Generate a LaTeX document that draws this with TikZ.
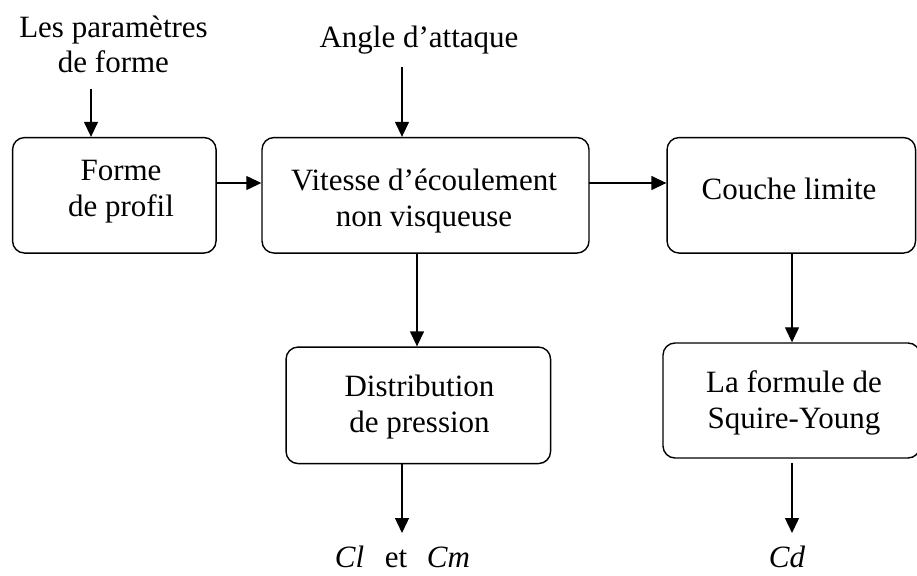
\documentclass[tikz,border=0pt]{standalone}
\usepackage{fontspec}
\setmainfont{Liberation Serif}
\usetikzlibrary{arrows.meta}
\begin{document}
\begin{tikzpicture}[x=1pt,y=-1pt,
  stage/.style={draw,line width=1.4pt,rounded corners=12pt,inner sep=0pt},
  lbl/.style={align=center,inner sep=0pt,font=\fontsize{31}{36}\selectfont},
  flow/.style={line width=1.3pt,-{Triangle[length=15pt,width=14pt]}}]
% page frame
\fill[white] (0,0) rectangle (917,575);
\useasboundingbox (0,0) rectangle (917,575);

% process blocks
\node[stage,minimum width=203.5pt,minimum height=115.5pt] (b1) at (114.3,195.3) {};
\node[stage,minimum width=327pt,minimum height=115.5pt] (b2) at (425.5,195.3) {};
\node[stage,minimum width=248.5pt,minimum height=115.5pt] (b3) at (791.3,195.3) {};
\node[stage,minimum width=264.5pt,minimum height=116.5pt] (b4) at (418.3,405.3) {};
\node[stage,minimum width=257pt,minimum height=115pt] (b5) at (791.5,400.5) {};

% block captions
\node[lbl] (t1) at (121,191.8) {Forme\\de profil};
\node[lbl] (t2) at (424,201.5) {Vitesse d’écoulement\\non visqueuse};
\node[lbl] (t3) at (789,188.4) {Couche limite};
\node[lbl] (t4) at (419.5,406.8) {Distribution\\de pression};
\node[lbl] (t5) at (794,403.2) {La formule de\\Squire-Young};

% inputs and outputs
\node[lbl,font=\fontsize{31}{35}\selectfont] (in1) at (113.5,43.9) {Les paramètres\\de forme};
\node[lbl] (in2) at (419,39.8) {Angle d’attaque};
\node[lbl] (out1) at (402.5,557) {\textit{Cl}\hspace{20.7pt}et\hspace{19.6pt}\textit{Cm}};
\node[lbl] (out2) at (787,557) {\textit{Cd}};

% arrow anchors
\coordinate (p1) at (91,89);
\coordinate (a1) at (402,67);
\coordinate (r1) at (216,183);
\coordinate (r2) at (589,183);
\coordinate (v1) at (417,300);
\coordinate (v2) at (792,300);
\coordinate (d1) at (402,533);
\coordinate (d2) at (792,533);
\coordinate (s2) at (792,463);

% connectors
\draw[flow] (p1) -- (p1 |- b1.north);
\draw[flow] (a1) -- (a1 |- b2.north);
\draw[flow] (r1) -- (r1 -| b2.west);
\draw[flow] (r2) -- (r2 -| b3.west);
\draw[flow] (v1 |- b2.south) -- (v1 |- b4.north);
\draw[flow] (v2 |- b3.south) -- (v2 |- b5.north);
\draw[flow] (d1 |- b4.south) -- (d1);
\draw[flow] (s2) -- (d2);
\end{tikzpicture}
\end{document}
